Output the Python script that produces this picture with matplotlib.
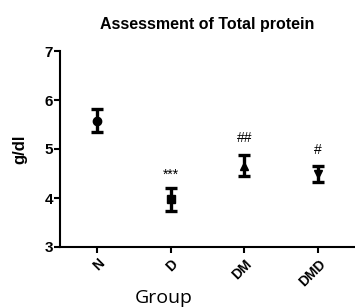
import matplotlib

matplotlib.use("Agg")
import matplotlib.pyplot as plt

groups = ["N", "D", "DM", "DMD"]
means = [5.58, 3.97, 4.66, 4.49]
errors = [0.23, 0.24, 0.21, 0.17]
markers = ["o", "s", "^", "v"]
signif = ["", "***", "##", "#"]
signif_y = [None, 4.47, 5.22, 4.98]

plt.rcParams["font.family"] = ["Liberation Sans", "DejaVu Sans"]

fig = plt.figure(figsize=(3.55, 3.07), dpi=100)
ax = fig.add_axes([60 / 355, 60 / 307, 295 / 355, 196 / 307])

for i, (m, e, mk) in enumerate(zip(means, errors, markers)):
    ax.errorbar(i, m, yerr=e, fmt=mk, color="black", ms=6, elinewidth=2.4,
                capsize=4, capthick=2.4)
    if signif[i]:
        ax.text(i, signif_y[i], signif[i], ha="center", va="center", fontsize=10)

ax.set_xlim(-0.5, 3.5)
ax.set_ylim(3, 7)
ax.set_yticks([3, 4, 5, 6, 7])
ax.set_xticks(range(len(groups)))
ax.set_xticklabels(groups, rotation=45, ha="right", rotation_mode="anchor",
                   fontweight="bold", fontsize=10)
for lbl in ax.get_yticklabels():
    lbl.set_fontweight("bold")
    lbl.set_fontsize(11)

ax.spines["top"].set_visible(False)
ax.spines["right"].set_visible(False)
for s in ("left", "bottom"):
    ax.spines[s].set_linewidth(1.5)
ax.tick_params(width=1.5, length=4, direction="out", pad=1)
ax.tick_params(axis="x", pad=3)

ax.set_ylabel("g/dl", fontweight="bold", fontsize=12)
ax.yaxis.set_label_coords(-0.11, 0.5)
ax.set_xlabel("Group", fontsize=14, family="Open Sans", va="bottom")
ax.xaxis.set_label_coords(0.35, -0.305)
ax.set_title("Assessment of Total protein", fontweight="bold", fontsize=11.5, pad=16)

fig.savefig("out.png", dpi=100)
